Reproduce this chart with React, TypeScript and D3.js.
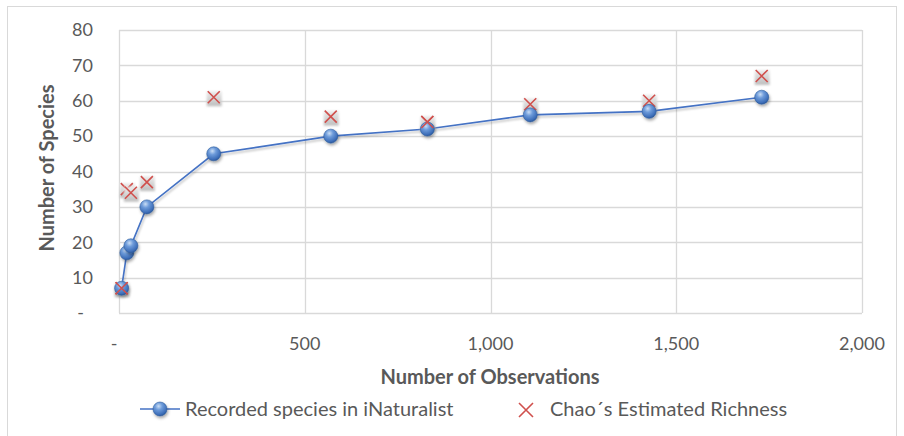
import React from "react";
import * as d3 from "d3";

const observations = [7, 21, 32, 75, 255, 570, 830, 1107, 1427, 1730];
const recorded = [7, 17, 19, 30, 45, 50, 52, 56, 57, 61];
const chao = [7, 35, 34, 37, 61, 55.5, 54, 59, 60, 67];
const yTicks = [0, 10, 20, 30, 40, 50, 60, 70, 80];
const xTicks = [0, 500, 1000, 1500, 2000];
const seriesNames = ["Recorded species in iNaturalist", "Chao´s Estimated Richness"];
const xTitle = "Number of Observations";
const yTitle = "Number of Species";

const W = 904;
const H = 436;
const FONT = "Lato, 'Open Sans', sans-serif";
const TEXT = "#595959";
const GRID = "#D9D9D9";
const BLUE = "#4472C4";
const RED = "#D0504D";

const fmt = (v: number) => (v === 0 ? "-" : d3.format(",")(v));

function Sphere({ cx, cy, r = 7 }: { cx: number; cy: number; r?: number }) {
  return (
    <g filter="url(#ballShadow)">
      <circle cx={cx} cy={cy} r={r} fill="url(#ballGrad)" stroke="#2F5E9E" strokeWidth={0.6} />
    </g>
  );
}

function crossPath(cx: number, cy: number, s = 6) {
  return `M${cx - s},${cy - s}L${cx + s},${cy + s}M${cx + s},${cy - s}L${cx - s},${cy + s}`;
}

function Cross({ cx, cy, s = 6 }: { cx: number; cy: number; s?: number }) {
  return (
    <g>
      <rect x={cx - s - 1} y={cy - s} width={2 * s + 3} height={2 * s + 3} fill="url(#boxGrad)" filter="url(#boxShadow)" />
      <path d={crossPath(cx, cy, s)} stroke={RED} strokeWidth={1.6} fill="none" />
    </g>
  );
}

export default function App() {
  const x = d3.scaleLinear().domain([0, 2000]).range([119, 862]);
  const y = d3.scaleLinear().domain([0, 80]).range([313, 30]);
  const pts = observations.map((o, i) => ({ o, r: recorded[i], c: chao[i] }));
  const line = d3
    .line<{ o: number; r: number }>()
    .x((d) => x(d.o))
    .y((d) => y(d.r));

  return (
    <div style={{ position: "fixed", left: 0, top: 0 }}>
      <svg width={W} height={H} style={{ display: "block", background: "#fff" }} fontFamily={FONT}>
        <defs>
          <radialGradient id="ballGrad" cx="0.4" cy="0.3" r="0.75">
            <stop offset="0" stopColor="#C9DDF5" />
            <stop offset="0.35" stopColor="#6D9BDA" />
            <stop offset="0.8" stopColor="#3C6DB8" />
            <stop offset="1" stopColor="#244F8E" />
          </radialGradient>
          <linearGradient id="boxGrad" x1="0" y1="0" x2="0" y2="1">
            <stop offset="0" stopColor="#EDEDED" />
            <stop offset="1" stopColor="#BDBDBD" />
          </linearGradient>
          <filter id="ballShadow" x="-50%" y="-50%" width="200%" height="200%">
            <feDropShadow dx="1" dy="2" stdDeviation="1.5" floodColor="#000" floodOpacity="0.35" />
          </filter>
          <filter id="boxShadow" x="-50%" y="-50%" width="200%" height="200%">
            <feGaussianBlur stdDeviation="1.2" />
          </filter>
          <filter id="lineShadow" x="-10%" y="-10%" width="120%" height="120%">
            <feDropShadow dx="1" dy="2" stdDeviation="1.2" floodColor="#000" floodOpacity="0.25" />
          </filter>
        </defs>

        <rect x={7.5} y={6.5} width={889} height={440} fill="#fff" stroke={GRID} strokeWidth={1} />

        {/* gridlines */}
        {yTicks.map((t) => (
          <line key={"gy" + t} x1={x(0)} x2={x(2000)} y1={Math.round(y(t)) + 0.5} y2={Math.round(y(t)) + 0.5} stroke={GRID} strokeWidth={1.3} />
        ))}
        {xTicks.map((t) => (
          <line key={"gx" + t} x1={Math.round(x(t)) + 0.5} x2={Math.round(x(t)) + 0.5} y1={y(80)} y2={y(0)} stroke={GRID} strokeWidth={1.3} />
        ))}

        {/* y tick labels */}
        {yTicks.map((t) => (
          <text key={"ty" + t} x={t === 0 ? 84 : 93} y={y(t)} dy="0.35em" textAnchor="end" fontSize={18} fill={TEXT}>
            {fmt(t)}
          </text>
        ))}
        {/* x tick labels */}
        {xTicks.map((t) => (
          <text key={"tx" + t} x={t === 0 ? x(t) - 5 : x(t)} y={344} dy="0.35em" textAnchor="middle" fontSize={18} fill={TEXT}>
            {fmt(t)}
          </text>
        ))}

        {/* axis titles */}
        <text x={490} y={377} dy="0.35em" textAnchor="middle" fontSize={20} fontWeight="bold" fill={TEXT}>
          {xTitle}
        </text>
        <text transform={`translate(47,168) rotate(-90)`} dy="0.35em" textAnchor="middle" fontSize={20} fontWeight="bold" fill={TEXT}>
          {yTitle}
        </text>

        {/* series line */}
        <path d={line(pts) || ""} fill="none" stroke={BLUE} strokeWidth={1.6} filter="url(#lineShadow)" />

        {/* chao markers */}
        {pts.map((d, i) => (
          <Cross key={"c" + i} cx={x(d.o)} cy={y(d.c)} />
        ))}
        {/* recorded markers */}
        {pts.map((d, i) => (
          <Sphere key={"r" + i} cx={x(d.o)} cy={y(d.r)} />
        ))}
        {/* crosses that overlap spheres drawn on top */}
        {pts
          .filter((d) => Math.abs(d.c - d.r) < 3)
          .map((d, i) => (
            <path key={"co" + i} d={crossPath(x(d.o), y(d.c))} stroke={RED} strokeWidth={1.6} />
          ))}

        {/* legend */}
        <line x1={140} x2={180} y1={409} y2={409} stroke={BLUE} strokeWidth={1.6} />
        <Sphere cx={160} cy={409} />
        <text x={185} y={409} dy="0.35em" fontSize={20} fill={TEXT}>
          {seriesNames[0]}
        </text>
        <path d={crossPath(526, 410, 7)} stroke={RED} strokeWidth={1.6} />
        <text x={550} y={409} dy="0.35em" fontSize={20} fill={TEXT}>
          {seriesNames[1]}
        </text>
      </svg>
    </div>
  );
}
